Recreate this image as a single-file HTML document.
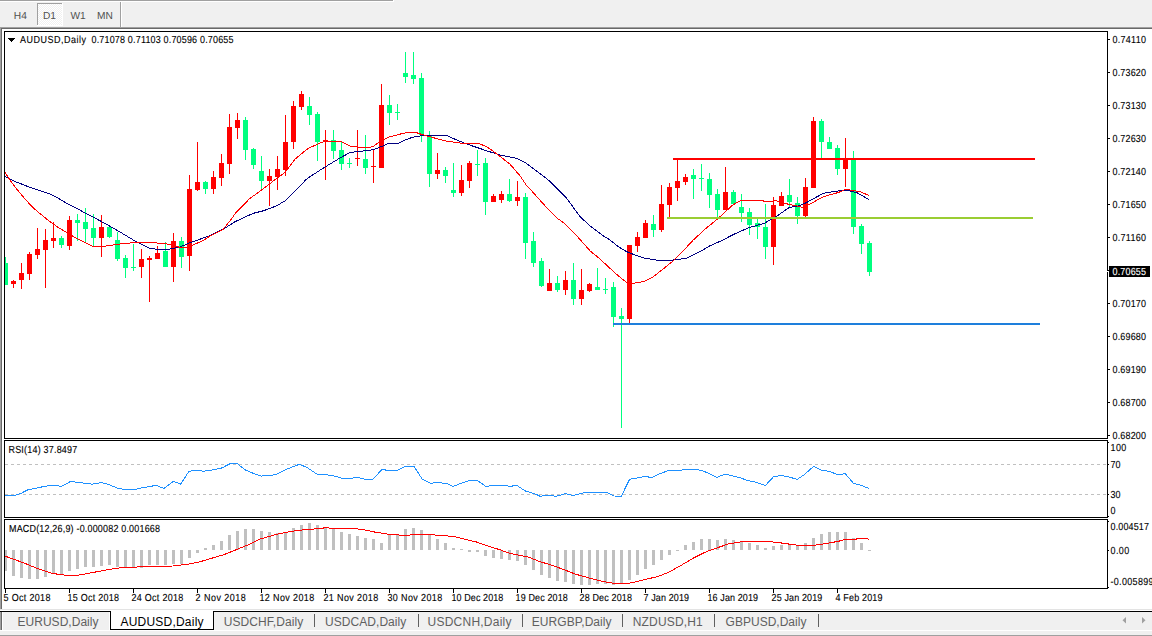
<!DOCTYPE html>
<html><head><meta charset="utf-8"><style>
html,body{margin:0;padding:0;width:1152px;height:636px;overflow:hidden;background:#f0f0f0}
svg{display:block;font-family:"Liberation Sans", sans-serif}
</style></head><body>
<svg width="1152" height="636" viewBox="0 0 1152 636" shape-rendering="crispEdges">
<defs>
<pattern id="dither" width="2" height="2" patternUnits="userSpaceOnUse"><rect width="2" height="2" fill="#f0f0f0"/><rect width="1" height="1" fill="#fff"/><rect x="1" y="1" width="1" height="1" fill="#fff"/></pattern>
<clipPath id="cmain"><rect x="5" y="32" width="1102" height="406"/></clipPath>
<clipPath id="crsi"><rect x="5" y="441" width="1102" height="76"/></clipPath>
<clipPath id="cmacd"><rect x="5" y="520" width="1102" height="68"/></clipPath>
</defs>
<rect x="0" y="0" width="1152" height="636" fill="#f0f0f0"/>
<rect x="0" y="0" width="393" height="1" fill="#a0a0a0"/>
<rect x="393" y="0" width="1" height="2" fill="#ffffff"/>
<rect x="0" y="1" width="393" height="1" fill="#ffffff"/>
<rect x="37" y="3" width="26" height="23" fill="#ffffff"/>
<rect x="38" y="4" width="24" height="21" fill="url(#dither)"/>
<rect x="37" y="3" width="25" height="1" fill="#a0a0a0"/>
<rect x="37" y="3" width="1" height="22" fill="#a0a0a0"/>
<rect x="120" y="2" width="1" height="25" fill="#a0a0a0"/>
<rect x="121" y="2" width="1" height="25" fill="#ffffff"/>
<text transform="translate(13.8,19) scale(1,1)" style="font-size:10.2px;text-rendering:geometricPrecision" fill="#505050">H4</text>
<text transform="translate(43,19) scale(1,1)" style="font-size:10.2px;text-rendering:geometricPrecision" fill="#505050">D1</text>
<text transform="translate(70.5,19) scale(1,1)" style="font-size:10.2px;text-rendering:geometricPrecision" fill="#505050">W1</text>
<text transform="translate(97,19) scale(1,1)" style="font-size:10.2px;text-rendering:geometricPrecision" fill="#505050">MN</text>
<rect x="0" y="27" width="1152" height="1" fill="#a0a0a0"/>
<rect x="0" y="28" width="1152" height="1" fill="#696969"/>
<rect x="0" y="27" width="1" height="582" fill="#a0a0a0"/>
<rect x="1" y="28" width="1" height="581" fill="#696969"/>
<rect x="2" y="29" width="1150" height="580" fill="#ffffff"/>
<rect x="4" y="31" width="1104" height="1" fill="#000"/>
<rect x="4" y="438" width="1104" height="1" fill="#000"/>
<rect x="4" y="31" width="1" height="408" fill="#000"/>
<rect x="1107" y="31" width="1" height="408" fill="#000"/>
<rect x="4" y="440" width="1104" height="1" fill="#000"/>
<rect x="4" y="517" width="1104" height="1" fill="#000"/>
<rect x="4" y="440" width="1" height="78" fill="#000"/>
<rect x="1107" y="440" width="1" height="78" fill="#000"/>
<rect x="4" y="519" width="1104" height="1" fill="#000"/>
<rect x="4" y="588" width="1104" height="1" fill="#000"/>
<rect x="4" y="519" width="1" height="70" fill="#000"/>
<rect x="1107" y="519" width="1" height="70" fill="#000"/>
<g clip-path="url(#cmain)">
<rect x="5" y="257" width="1" height="28" fill="#00ff7f"/>
<rect x="3" y="263" width="5" height="22" fill="#00ff7f"/>
<rect x="13" y="280" width="1" height="8" fill="#ff0000"/>
<rect x="11" y="281" width="5" height="3" fill="#ff0000"/>
<rect x="21" y="263" width="1" height="26" fill="#ff0000"/>
<rect x="19" y="273" width="5" height="7" fill="#ff0000"/>
<rect x="29" y="252" width="1" height="28" fill="#ff0000"/>
<rect x="27" y="254" width="5" height="20" fill="#ff0000"/>
<rect x="37" y="228" width="1" height="31" fill="#ff0000"/>
<rect x="35" y="249" width="5" height="6" fill="#ff0000"/>
<rect x="45" y="229" width="1" height="59" fill="#ff0000"/>
<rect x="43" y="240" width="5" height="10" fill="#ff0000"/>
<rect x="53" y="222" width="1" height="26" fill="#ff0000"/>
<rect x="51" y="238" width="5" height="3" fill="#ff0000"/>
<rect x="61" y="236" width="1" height="12" fill="#00ff7f"/>
<rect x="59" y="238" width="5" height="7" fill="#00ff7f"/>
<rect x="69" y="216" width="1" height="34" fill="#ff0000"/>
<rect x="67" y="220" width="5" height="26" fill="#ff0000"/>
<rect x="77" y="214" width="1" height="27" fill="#00ff7f"/>
<rect x="75" y="220" width="5" height="3" fill="#00ff7f"/>
<rect x="85" y="208" width="1" height="34" fill="#00ff7f"/>
<rect x="83" y="222" width="5" height="7" fill="#00ff7f"/>
<rect x="93" y="214" width="1" height="32" fill="#00ff7f"/>
<rect x="91" y="228" width="5" height="10" fill="#00ff7f"/>
<rect x="101" y="215" width="1" height="42" fill="#ff0000"/>
<rect x="99" y="227" width="5" height="11" fill="#ff0000"/>
<rect x="109" y="226" width="1" height="12" fill="#00ff7f"/>
<rect x="107" y="227" width="5" height="10" fill="#00ff7f"/>
<rect x="117" y="232" width="1" height="29" fill="#00ff7f"/>
<rect x="115" y="240" width="5" height="19" fill="#00ff7f"/>
<rect x="125" y="255" width="1" height="23" fill="#00ff7f"/>
<rect x="123" y="258" width="5" height="10" fill="#00ff7f"/>
<rect x="133" y="244" width="1" height="27" fill="#00ff7f"/>
<rect x="131" y="267" width="5" height="1" fill="#00ff7f"/>
<rect x="141" y="249" width="1" height="29" fill="#ff0000"/>
<rect x="139" y="259" width="5" height="8" fill="#ff0000"/>
<rect x="149" y="256" width="1" height="46" fill="#ff0000"/>
<rect x="147" y="258" width="5" height="2" fill="#ff0000"/>
<rect x="157" y="246" width="1" height="13" fill="#ff0000"/>
<rect x="155" y="253" width="5" height="6" fill="#ff0000"/>
<rect x="165" y="242" width="1" height="25" fill="#00ff7f"/>
<rect x="163" y="251" width="5" height="16" fill="#00ff7f"/>
<rect x="173" y="233" width="1" height="49" fill="#ff0000"/>
<rect x="171" y="241" width="5" height="26" fill="#ff0000"/>
<rect x="181" y="237" width="1" height="31" fill="#00ff7f"/>
<rect x="179" y="241" width="5" height="16" fill="#00ff7f"/>
<rect x="189" y="175" width="1" height="96" fill="#ff0000"/>
<rect x="187" y="189" width="5" height="67" fill="#ff0000"/>
<rect x="197" y="142" width="1" height="49" fill="#ff0000"/>
<rect x="195" y="182" width="5" height="8" fill="#ff0000"/>
<rect x="205" y="181" width="1" height="13" fill="#00ff7f"/>
<rect x="203" y="182" width="5" height="7" fill="#00ff7f"/>
<rect x="213" y="171" width="1" height="23" fill="#ff0000"/>
<rect x="211" y="177" width="5" height="12" fill="#ff0000"/>
<rect x="221" y="154" width="1" height="32" fill="#ff0000"/>
<rect x="219" y="163" width="5" height="15" fill="#ff0000"/>
<rect x="229" y="114" width="1" height="60" fill="#ff0000"/>
<rect x="227" y="127" width="5" height="37" fill="#ff0000"/>
<rect x="237" y="113" width="1" height="26" fill="#ff0000"/>
<rect x="235" y="120" width="5" height="8" fill="#ff0000"/>
<rect x="245" y="117" width="1" height="43" fill="#00ff7f"/>
<rect x="243" y="120" width="5" height="30" fill="#00ff7f"/>
<rect x="253" y="148" width="1" height="21" fill="#00ff7f"/>
<rect x="251" y="149" width="5" height="16" fill="#00ff7f"/>
<rect x="261" y="156" width="1" height="35" fill="#00ff7f"/>
<rect x="259" y="171" width="5" height="10" fill="#00ff7f"/>
<rect x="269" y="169" width="1" height="37" fill="#ff0000"/>
<rect x="267" y="176" width="5" height="5" fill="#ff0000"/>
<rect x="277" y="156" width="1" height="34" fill="#ff0000"/>
<rect x="275" y="169" width="5" height="8" fill="#ff0000"/>
<rect x="285" y="115" width="1" height="61" fill="#ff0000"/>
<rect x="283" y="142" width="5" height="28" fill="#ff0000"/>
<rect x="293" y="101" width="1" height="48" fill="#ff0000"/>
<rect x="291" y="106" width="5" height="36" fill="#ff0000"/>
<rect x="301" y="91" width="1" height="19" fill="#ff0000"/>
<rect x="299" y="94" width="5" height="13" fill="#ff0000"/>
<rect x="309" y="97" width="1" height="28" fill="#00ff7f"/>
<rect x="307" y="106" width="5" height="9" fill="#00ff7f"/>
<rect x="317" y="112" width="1" height="49" fill="#00ff7f"/>
<rect x="315" y="114" width="5" height="28" fill="#00ff7f"/>
<rect x="325" y="130" width="1" height="50" fill="#ff0000"/>
<rect x="323" y="140" width="5" height="2" fill="#ff0000"/>
<rect x="333" y="130" width="1" height="29" fill="#00ff7f"/>
<rect x="331" y="140" width="5" height="11" fill="#00ff7f"/>
<rect x="341" y="142" width="1" height="28" fill="#00ff7f"/>
<rect x="339" y="150" width="5" height="14" fill="#00ff7f"/>
<rect x="349" y="158" width="1" height="10" fill="#00ff7f"/>
<rect x="347" y="163" width="5" height="1" fill="#00ff7f"/>
<rect x="357" y="130" width="1" height="36" fill="#ff0000"/>
<rect x="355" y="158" width="5" height="1" fill="#ff0000"/>
<rect x="365" y="135" width="1" height="39" fill="#00ff7f"/>
<rect x="363" y="159" width="5" height="9" fill="#00ff7f"/>
<rect x="373" y="150" width="1" height="33" fill="#ff0000"/>
<rect x="371" y="166" width="5" height="1" fill="#ff0000"/>
<rect x="381" y="84" width="1" height="84" fill="#ff0000"/>
<rect x="379" y="105" width="5" height="63" fill="#ff0000"/>
<rect x="389" y="95" width="1" height="30" fill="#00ff7f"/>
<rect x="387" y="105" width="5" height="8" fill="#00ff7f"/>
<rect x="397" y="104" width="1" height="16" fill="#00ff7f"/>
<rect x="395" y="112" width="5" height="1" fill="#00ff7f"/>
<rect x="405" y="52" width="1" height="31" fill="#00ff7f"/>
<rect x="403" y="73" width="5" height="4" fill="#00ff7f"/>
<rect x="413" y="52" width="1" height="32" fill="#00ff7f"/>
<rect x="411" y="75" width="5" height="4" fill="#00ff7f"/>
<rect x="421" y="73" width="1" height="69" fill="#00ff7f"/>
<rect x="419" y="78" width="5" height="57" fill="#00ff7f"/>
<rect x="429" y="131" width="1" height="56" fill="#00ff7f"/>
<rect x="427" y="136" width="5" height="38" fill="#00ff7f"/>
<rect x="437" y="153" width="1" height="26" fill="#ff0000"/>
<rect x="435" y="170" width="5" height="4" fill="#ff0000"/>
<rect x="445" y="167" width="1" height="16" fill="#00ff7f"/>
<rect x="443" y="170" width="5" height="6" fill="#00ff7f"/>
<rect x="453" y="163" width="1" height="34" fill="#00ff7f"/>
<rect x="451" y="190" width="5" height="3" fill="#00ff7f"/>
<rect x="461" y="165" width="1" height="31" fill="#ff0000"/>
<rect x="459" y="180" width="5" height="13" fill="#ff0000"/>
<rect x="469" y="161" width="1" height="27" fill="#ff0000"/>
<rect x="467" y="163" width="5" height="18" fill="#ff0000"/>
<rect x="477" y="150" width="1" height="26" fill="#00ff7f"/>
<rect x="475" y="164" width="5" height="1" fill="#00ff7f"/>
<rect x="485" y="158" width="1" height="57" fill="#00ff7f"/>
<rect x="483" y="163" width="5" height="39" fill="#00ff7f"/>
<rect x="493" y="194" width="1" height="8" fill="#ff0000"/>
<rect x="491" y="196" width="5" height="6" fill="#ff0000"/>
<rect x="501" y="191" width="1" height="12" fill="#ff0000"/>
<rect x="499" y="194" width="5" height="6" fill="#ff0000"/>
<rect x="509" y="179" width="1" height="23" fill="#00ff7f"/>
<rect x="507" y="194" width="5" height="7" fill="#00ff7f"/>
<rect x="517" y="181" width="1" height="25" fill="#ff0000"/>
<rect x="515" y="197" width="5" height="4" fill="#ff0000"/>
<rect x="525" y="193" width="1" height="66" fill="#00ff7f"/>
<rect x="523" y="197" width="5" height="46" fill="#00ff7f"/>
<rect x="533" y="232" width="1" height="35" fill="#00ff7f"/>
<rect x="531" y="241" width="5" height="22" fill="#00ff7f"/>
<rect x="541" y="258" width="1" height="29" fill="#00ff7f"/>
<rect x="539" y="261" width="5" height="25" fill="#00ff7f"/>
<rect x="549" y="269" width="1" height="22" fill="#ff0000"/>
<rect x="547" y="283" width="5" height="8" fill="#ff0000"/>
<rect x="557" y="276" width="1" height="16" fill="#00ff7f"/>
<rect x="555" y="283" width="5" height="7" fill="#00ff7f"/>
<rect x="565" y="271" width="1" height="24" fill="#ff0000"/>
<rect x="563" y="280" width="5" height="10" fill="#ff0000"/>
<rect x="573" y="263" width="1" height="42" fill="#00ff7f"/>
<rect x="571" y="280" width="5" height="19" fill="#00ff7f"/>
<rect x="581" y="269" width="1" height="36" fill="#ff0000"/>
<rect x="579" y="290" width="5" height="9" fill="#ff0000"/>
<rect x="589" y="283" width="1" height="9" fill="#ff0000"/>
<rect x="587" y="284" width="5" height="7" fill="#ff0000"/>
<rect x="597" y="268" width="1" height="22" fill="#00ff7f"/>
<rect x="595" y="287" width="5" height="3" fill="#00ff7f"/>
<rect x="605" y="278" width="1" height="16" fill="#00ff7f"/>
<rect x="603" y="289" width="5" height="1" fill="#00ff7f"/>
<rect x="613" y="282" width="1" height="45" fill="#00ff7f"/>
<rect x="611" y="287" width="5" height="30" fill="#00ff7f"/>
<rect x="621" y="308" width="1" height="120" fill="#00ff7f"/>
<rect x="619" y="316" width="5" height="3" fill="#00ff7f"/>
<rect x="629" y="245" width="1" height="78" fill="#ff0000"/>
<rect x="627" y="245" width="5" height="74" fill="#ff0000"/>
<rect x="637" y="232" width="1" height="20" fill="#ff0000"/>
<rect x="635" y="237" width="5" height="9" fill="#ff0000"/>
<rect x="645" y="220" width="1" height="18" fill="#ff0000"/>
<rect x="643" y="223" width="5" height="15" fill="#ff0000"/>
<rect x="653" y="215" width="1" height="22" fill="#00ff7f"/>
<rect x="651" y="224" width="5" height="6" fill="#00ff7f"/>
<rect x="661" y="185" width="1" height="47" fill="#ff0000"/>
<rect x="659" y="204" width="5" height="26" fill="#ff0000"/>
<rect x="669" y="183" width="1" height="34" fill="#ff0000"/>
<rect x="667" y="187" width="5" height="18" fill="#ff0000"/>
<rect x="677" y="159" width="1" height="42" fill="#ff0000"/>
<rect x="675" y="181" width="5" height="7" fill="#ff0000"/>
<rect x="685" y="174" width="1" height="11" fill="#ff0000"/>
<rect x="683" y="177" width="5" height="5" fill="#ff0000"/>
<rect x="693" y="169" width="1" height="30" fill="#00ff7f"/>
<rect x="691" y="175" width="5" height="4" fill="#00ff7f"/>
<rect x="701" y="164" width="1" height="27" fill="#00ff7f"/>
<rect x="699" y="178" width="5" height="1" fill="#00ff7f"/>
<rect x="709" y="173" width="1" height="35" fill="#00ff7f"/>
<rect x="707" y="179" width="5" height="16" fill="#00ff7f"/>
<rect x="717" y="189" width="1" height="28" fill="#00ff7f"/>
<rect x="715" y="194" width="5" height="16" fill="#00ff7f"/>
<rect x="725" y="167" width="1" height="43" fill="#ff0000"/>
<rect x="723" y="192" width="5" height="18" fill="#ff0000"/>
<rect x="733" y="190" width="1" height="14" fill="#00ff7f"/>
<rect x="731" y="192" width="5" height="12" fill="#00ff7f"/>
<rect x="741" y="194" width="1" height="28" fill="#00ff7f"/>
<rect x="739" y="207" width="5" height="6" fill="#00ff7f"/>
<rect x="749" y="208" width="1" height="27" fill="#00ff7f"/>
<rect x="747" y="212" width="5" height="13" fill="#00ff7f"/>
<rect x="757" y="219" width="1" height="20" fill="#00ff7f"/>
<rect x="755" y="223" width="5" height="4" fill="#00ff7f"/>
<rect x="765" y="204" width="1" height="55" fill="#00ff7f"/>
<rect x="763" y="227" width="5" height="20" fill="#00ff7f"/>
<rect x="773" y="197" width="1" height="68" fill="#ff0000"/>
<rect x="771" y="205" width="5" height="42" fill="#ff0000"/>
<rect x="781" y="192" width="1" height="14" fill="#ff0000"/>
<rect x="779" y="196" width="5" height="10" fill="#ff0000"/>
<rect x="789" y="179" width="1" height="28" fill="#00ff7f"/>
<rect x="787" y="195" width="5" height="7" fill="#00ff7f"/>
<rect x="797" y="197" width="1" height="27" fill="#00ff7f"/>
<rect x="795" y="203" width="5" height="13" fill="#00ff7f"/>
<rect x="805" y="178" width="1" height="39" fill="#ff0000"/>
<rect x="803" y="187" width="5" height="29" fill="#ff0000"/>
<rect x="813" y="117" width="1" height="71" fill="#ff0000"/>
<rect x="811" y="121" width="5" height="67" fill="#ff0000"/>
<rect x="821" y="119" width="1" height="39" fill="#00ff7f"/>
<rect x="819" y="121" width="5" height="21" fill="#00ff7f"/>
<rect x="829" y="137" width="1" height="12" fill="#00ff7f"/>
<rect x="827" y="142" width="5" height="7" fill="#00ff7f"/>
<rect x="837" y="145" width="1" height="30" fill="#00ff7f"/>
<rect x="835" y="148" width="5" height="21" fill="#00ff7f"/>
<rect x="845" y="138" width="1" height="49" fill="#ff0000"/>
<rect x="843" y="159" width="5" height="10" fill="#ff0000"/>
<rect x="853" y="151" width="1" height="83" fill="#00ff7f"/>
<rect x="851" y="159" width="5" height="68" fill="#00ff7f"/>
<rect x="861" y="224" width="1" height="30" fill="#00ff7f"/>
<rect x="859" y="226" width="5" height="18" fill="#00ff7f"/>
<rect x="869" y="241" width="1" height="35" fill="#00ff7f"/>
<rect x="867" y="243" width="5" height="29" fill="#00ff7f"/>
<polyline points="5.0,176.7 13.3,180.8 28.3,186.7 38.3,190.0 50.0,194.0 58.3,198.3 66.7,203.3 76.7,208.3 86.7,214.0 96.7,219.0 106.0,224.0 120.0,232.0 135.0,241.0 150.0,248.5 165.0,250.0 180.0,247.0 190.0,242.7 209.0,236.0 223.3,229.2 235.0,221.7 253.3,213.3 263.3,210.8 276.7,205.8 285.0,200.8 295.0,190.8 306.0,179.7 310.0,176.7 325.0,167.0 340.0,158.0 350.0,152.5 360.0,151.3 368.7,150.4 373.9,149.5 381.7,146.5 388.6,143.4 398.2,143.3 405.1,140.0 412.1,137.4 419.0,136.1 425.1,135.6 446.8,135.5 453.8,138.7 466.7,144.0 486.7,150.8 500.0,155.0 516.7,158.3 526.0,163.0 548.3,180.0 566.7,198.3 580.0,216.7 590.0,225.8 603.3,235.8 610.0,240.0 618.3,246.7 626.7,251.7 635.0,255.0 645.0,258.3 658.3,260.3 673.3,260.0 686.7,258.3 700.0,251.7 710.0,245.8 719.3,241.7 736.0,233.3 749.3,227.5 764.3,223.3 776.0,216.7 789.3,207.5 799.3,205.8 806.7,202.5 823.3,193.3 833.3,191.7 845.0,190.0 856.7,192.5 869.0,199.5" fill="none" stroke="#000080" stroke-width="1" stroke-linejoin="round"/>
<polyline points="5.0,172.5 10.0,180.0 16.7,189.0 25.0,199.0 33.3,208.0 41.7,215.0 50.0,221.7 58.3,227.5 66.7,232.5 75.0,237.5 83.3,241.7 93.3,246.7 101.7,246.7 120.0,244.0 140.0,242.0 165.0,243.5 175.0,246.0 181.0,247.7 189.0,247.0 204.0,240.0 210.0,236.0 223.3,229.2 230.0,220.8 236.7,211.7 250.0,198.3 258.3,192.5 268.3,185.0 276.7,178.3 285.0,172.5 295.0,159.2 306.0,150.0 310.0,147.5 325.0,141.0 340.0,141.0 350.0,146.0 357.0,147.0 368.7,147.6 373.9,146.0 377.4,143.3 384.3,139.5 389.5,136.9 394.7,135.6 403.4,133.2 410.3,132.2 415.6,132.4 420.8,134.1 425.1,135.5 433.8,137.8 445.0,140.8 461.7,143.3 478.3,143.3 486.7,146.7 495.0,152.5 510.0,164.2 520.0,175.8 526.0,184.7 530.0,189.0 545.0,205.8 558.3,219.0 563.3,222.5 576.7,235.8 590.0,250.8 600.0,259.0 610.0,268.3 618.3,275.8 626.7,282.5 633.3,283.3 643.3,281.7 653.3,276.7 665.0,267.5 673.3,260.8 681.7,252.5 693.3,240.0 705.0,229.2 716.0,220.3 721.0,215.8 732.7,205.0 741.0,200.3 761.0,200.3 766.0,201.7 776.0,200.8 786.0,203.7 796.0,205.8 802.7,207.5 812.0,203.0 823.3,196.7 838.3,192.5 845.0,189.7 850.0,190.0 860.0,191.7 869.0,195.5" fill="none" stroke="#ff0000" stroke-width="1" stroke-linejoin="round"/>
<rect x="673" y="158" width="362" height="2" fill="#ff0000"/>
<rect x="667" y="217" width="366" height="2" fill="#9acd32"/>
<rect x="613" y="323" width="427" height="2" fill="#1e7fdc"/>
</g>
<path d="M8,38 L15,38 L11.5,42 Z" fill="#000"/>
<text transform="translate(20,43) scale(0.88,1)" style="font-size:10.2px;text-rendering:geometricPrecision;stroke:#000;stroke-width:0.12px" fill="#000" textLength="75.00" lengthAdjust="spacing">AUDUSD,Daily</text>
<text transform="translate(91.5,43) scale(0.88,1)" style="font-size:10.2px;text-rendering:geometricPrecision;stroke:#000;stroke-width:0.12px" fill="#000" textLength="161.36" lengthAdjust="spacing">0.71078 0.71103 0.70596 0.70655</text>
<rect x="1108" y="39" width="2" height="1" fill="#000"/>
<text transform="translate(1112.5,43) scale(0.88,1)" style="font-size:10.2px;text-rendering:geometricPrecision;stroke:#000;stroke-width:0.12px" fill="#000" textLength="38.07" lengthAdjust="spacing">0.74110</text>
<rect x="1108" y="72" width="2" height="1" fill="#000"/>
<text transform="translate(1112.5,76) scale(0.88,1)" style="font-size:10.2px;text-rendering:geometricPrecision;stroke:#000;stroke-width:0.12px" fill="#000" textLength="38.07" lengthAdjust="spacing">0.73620</text>
<rect x="1108" y="105" width="2" height="1" fill="#000"/>
<text transform="translate(1112.5,109) scale(0.88,1)" style="font-size:10.2px;text-rendering:geometricPrecision;stroke:#000;stroke-width:0.12px" fill="#000" textLength="38.07" lengthAdjust="spacing">0.73130</text>
<rect x="1108" y="138" width="2" height="1" fill="#000"/>
<text transform="translate(1112.5,142) scale(0.88,1)" style="font-size:10.2px;text-rendering:geometricPrecision;stroke:#000;stroke-width:0.12px" fill="#000" textLength="38.07" lengthAdjust="spacing">0.72630</text>
<rect x="1108" y="171" width="2" height="1" fill="#000"/>
<text transform="translate(1112.5,175) scale(0.88,1)" style="font-size:10.2px;text-rendering:geometricPrecision;stroke:#000;stroke-width:0.12px" fill="#000" textLength="38.07" lengthAdjust="spacing">0.72140</text>
<rect x="1108" y="204" width="2" height="1" fill="#000"/>
<text transform="translate(1112.5,208) scale(0.88,1)" style="font-size:10.2px;text-rendering:geometricPrecision;stroke:#000;stroke-width:0.12px" fill="#000" textLength="38.07" lengthAdjust="spacing">0.71650</text>
<rect x="1108" y="237" width="2" height="1" fill="#000"/>
<text transform="translate(1112.5,241) scale(0.88,1)" style="font-size:10.2px;text-rendering:geometricPrecision;stroke:#000;stroke-width:0.12px" fill="#000" textLength="38.07" lengthAdjust="spacing">0.71160</text>
<rect x="1108" y="270" width="2" height="1" fill="#000"/>
<rect x="1108" y="303" width="2" height="1" fill="#000"/>
<text transform="translate(1112.5,307) scale(0.88,1)" style="font-size:10.2px;text-rendering:geometricPrecision;stroke:#000;stroke-width:0.12px" fill="#000" textLength="38.07" lengthAdjust="spacing">0.70170</text>
<rect x="1108" y="336" width="2" height="1" fill="#000"/>
<text transform="translate(1112.5,340) scale(0.88,1)" style="font-size:10.2px;text-rendering:geometricPrecision;stroke:#000;stroke-width:0.12px" fill="#000" textLength="38.07" lengthAdjust="spacing">0.69680</text>
<rect x="1108" y="369" width="2" height="1" fill="#000"/>
<text transform="translate(1112.5,373) scale(0.88,1)" style="font-size:10.2px;text-rendering:geometricPrecision;stroke:#000;stroke-width:0.12px" fill="#000" textLength="38.07" lengthAdjust="spacing">0.69190</text>
<rect x="1108" y="402" width="2" height="1" fill="#000"/>
<text transform="translate(1112.5,406) scale(0.88,1)" style="font-size:10.2px;text-rendering:geometricPrecision;stroke:#000;stroke-width:0.12px" fill="#000" textLength="38.07" lengthAdjust="spacing">0.68700</text>
<rect x="1108" y="435" width="2" height="1" fill="#000"/>
<text transform="translate(1112.5,439) scale(0.88,1)" style="font-size:10.2px;text-rendering:geometricPrecision;stroke:#000;stroke-width:0.12px" fill="#000" textLength="38.07" lengthAdjust="spacing">0.68200</text>
<rect x="1109" y="266" width="41" height="11" fill="#000"/>
<rect x="1107" y="271" width="1" height="1" fill="#fff"/>
<rect x="1108" y="270" width="1" height="1" fill="#000"/>
<text transform="translate(1112.5,275) scale(0.88,1)" style="font-size:10.2px;text-rendering:geometricPrecision;stroke:#fff;stroke-width:0.12px" fill="#fff" textLength="38.07" lengthAdjust="spacing">0.70655</text>
<g clip-path="url(#crsi)">
<line x1="5" y1="464.5" x2="1107" y2="464.5" stroke="#c0c0c0" stroke-dasharray="3 3"/>
<line x1="5" y1="494.5" x2="1107" y2="494.5" stroke="#c0c0c0" stroke-dasharray="3 3"/>
<polyline points="4.7,495.5 14.2,495.5 20.1,493.8 28.3,489.6 35.4,488.4 42.5,486.8 49.6,485.6 56.7,485.6 61.4,486.5 70.8,481.3 77.9,482.5 85.0,483.2 92.1,484.2 101.5,482.5 108.6,484.4 118.1,488.4 125.1,489.6 134.6,489.6 141.7,487.9 148.8,486.8 155.8,485.3 164.1,488.4 173.6,481.3 180.6,484.2 188.9,471.4 196.0,470.2 203.1,471.2 212.5,470.0 222.0,467.9 230.2,463.6 237.3,463.6 245.6,470.2 253.8,473.5 260.9,476.1 266.8,475.4 271.1,475.4 277.0,474.2 287.6,468.8 299.4,464.3 306.5,467.2 317.1,474.2 326.6,474.7 334.8,476.1 341.9,478.3 351.4,478.3 357.3,477.3 365.5,479.4 372.6,479.4 382.1,469.5 386.8,470.2 397.4,470.2 405.7,466.4 413.9,466.4 422.2,479.0 430.5,483.2 438.7,482.5 447.0,483.7 452.9,486.5 460.0,483.7 469.4,480.6 477.7,480.6 486.0,486.5 493.0,485.3 504.8,485.3 509.6,486.5 516.7,485.3 524.9,490.8 536.0,494.3 539.8,496.2 546.9,495.5 556.3,496.2 565.8,493.6 572.9,495.5 582.3,493.1 587.0,492.0 605.9,492.0 614.2,496.0 621.3,496.2 629.5,479.4 643.7,476.6 652.0,477.3 660.2,473.5 669.7,470.2 679.1,470.2 688.6,469.5 696.8,469.5 702.7,470.7 716.9,477.3 725.2,474.2 733.4,476.1 740.5,477.8 747.6,480.6 757.0,482.5 765.3,485.6 773.6,476.6 781.8,475.4 790.1,477.3 797.2,479.4 803.8,475.0 813.7,466.4 821.5,470.2 829.8,471.4 838.0,475.0 845.1,473.5 853.4,483.2 861.7,485.6 869.0,488.4" fill="none" stroke="#1e90ff" stroke-width="1" stroke-linejoin="round"/>
</g>
<text transform="translate(8.5,453) scale(0.88,1)" style="font-size:10.2px;text-rendering:geometricPrecision;stroke:#000;stroke-width:0.12px" fill="#000" textLength="78.07" lengthAdjust="spacing">RSI(14) 37.8497</text>
<rect x="1108" y="442" width="1" height="1" fill="#000"/>
<text transform="translate(1110.5,451) scale(0.88,1)" style="font-size:10.2px;text-rendering:geometricPrecision;stroke:#000;stroke-width:0.12px" fill="#000" textLength="17.95" lengthAdjust="spacing">100</text>
<rect x="1108" y="464" width="1" height="1" fill="#000"/>
<text transform="translate(1110.5,468) scale(0.88,1)" style="font-size:10.2px;text-rendering:geometricPrecision;stroke:#000;stroke-width:0.12px" fill="#000" textLength="11.36" lengthAdjust="spacing">70</text>
<rect x="1108" y="494" width="1" height="1" fill="#000"/>
<text transform="translate(1110.5,498) scale(0.88,1)" style="font-size:10.2px;text-rendering:geometricPrecision;stroke:#000;stroke-width:0.12px" fill="#000" textLength="11.36" lengthAdjust="spacing">30</text>
<rect x="1108" y="516" width="1" height="1" fill="#000"/>
<text transform="translate(1110.5,514) scale(0.88,1)" style="font-size:10.2px;text-rendering:geometricPrecision;stroke:#000;stroke-width:0.12px" fill="#000">0</text>
<g clip-path="url(#cmacd)">
<rect x="4" y="550" width="3" height="21" fill="#c0c0c0"/>
<rect x="12" y="550" width="3" height="26" fill="#c0c0c0"/>
<rect x="20" y="550" width="3" height="28" fill="#c0c0c0"/>
<rect x="28" y="550" width="3" height="29" fill="#c0c0c0"/>
<rect x="36" y="550" width="3" height="29" fill="#c0c0c0"/>
<rect x="44" y="550" width="3" height="27" fill="#c0c0c0"/>
<rect x="52" y="550" width="3" height="24" fill="#c0c0c0"/>
<rect x="60" y="550" width="3" height="24" fill="#c0c0c0"/>
<rect x="68" y="550" width="3" height="21" fill="#c0c0c0"/>
<rect x="76" y="550" width="3" height="19" fill="#c0c0c0"/>
<rect x="84" y="550" width="3" height="17" fill="#c0c0c0"/>
<rect x="92" y="550" width="3" height="17" fill="#c0c0c0"/>
<rect x="100" y="550" width="3" height="16" fill="#c0c0c0"/>
<rect x="108" y="550" width="3" height="15" fill="#c0c0c0"/>
<rect x="116" y="550" width="3" height="17" fill="#c0c0c0"/>
<rect x="124" y="550" width="3" height="17" fill="#c0c0c0"/>
<rect x="132" y="550" width="3" height="17" fill="#c0c0c0"/>
<rect x="140" y="550" width="3" height="18" fill="#c0c0c0"/>
<rect x="148" y="550" width="3" height="15" fill="#c0c0c0"/>
<rect x="156" y="550" width="3" height="15" fill="#c0c0c0"/>
<rect x="164" y="550" width="3" height="15" fill="#c0c0c0"/>
<rect x="172" y="550" width="3" height="14" fill="#c0c0c0"/>
<rect x="180" y="550" width="3" height="14" fill="#c0c0c0"/>
<rect x="188" y="550" width="3" height="8" fill="#c0c0c0"/>
<rect x="196" y="550" width="3" height="3" fill="#c0c0c0"/>
<rect x="204" y="548" width="3" height="2" fill="#c0c0c0"/>
<rect x="212" y="545" width="3" height="5" fill="#c0c0c0"/>
<rect x="220" y="541" width="3" height="9" fill="#c0c0c0"/>
<rect x="228" y="535" width="3" height="15" fill="#c0c0c0"/>
<rect x="236" y="531" width="3" height="19" fill="#c0c0c0"/>
<rect x="244" y="529" width="3" height="21" fill="#c0c0c0"/>
<rect x="252" y="529" width="3" height="21" fill="#c0c0c0"/>
<rect x="260" y="531" width="3" height="19" fill="#c0c0c0"/>
<rect x="268" y="532" width="3" height="18" fill="#c0c0c0"/>
<rect x="276" y="533" width="3" height="17" fill="#c0c0c0"/>
<rect x="284" y="532" width="3" height="18" fill="#c0c0c0"/>
<rect x="292" y="528" width="3" height="22" fill="#c0c0c0"/>
<rect x="300" y="525" width="3" height="25" fill="#c0c0c0"/>
<rect x="308" y="523" width="3" height="27" fill="#c0c0c0"/>
<rect x="316" y="525" width="3" height="25" fill="#c0c0c0"/>
<rect x="324" y="527" width="3" height="23" fill="#c0c0c0"/>
<rect x="332" y="528" width="3" height="22" fill="#c0c0c0"/>
<rect x="340" y="532" width="3" height="18" fill="#c0c0c0"/>
<rect x="348" y="534" width="3" height="16" fill="#c0c0c0"/>
<rect x="356" y="536" width="3" height="14" fill="#c0c0c0"/>
<rect x="364" y="538" width="3" height="12" fill="#c0c0c0"/>
<rect x="372" y="539" width="3" height="11" fill="#c0c0c0"/>
<rect x="380" y="543" width="3" height="7" fill="#c0c0c0"/>
<rect x="388" y="534" width="3" height="16" fill="#c0c0c0"/>
<rect x="396" y="534" width="3" height="16" fill="#c0c0c0"/>
<rect x="404" y="529" width="3" height="21" fill="#c0c0c0"/>
<rect x="412" y="528" width="3" height="22" fill="#c0c0c0"/>
<rect x="420" y="530" width="3" height="20" fill="#c0c0c0"/>
<rect x="428" y="535" width="3" height="15" fill="#c0c0c0"/>
<rect x="436" y="539" width="3" height="11" fill="#c0c0c0"/>
<rect x="444" y="543" width="3" height="7" fill="#c0c0c0"/>
<rect x="452" y="548" width="3" height="2" fill="#c0c0c0"/>
<rect x="460" y="549" width="3" height="1" fill="#c0c0c0"/>
<rect x="468" y="550" width="3" height="2" fill="#c0c0c0"/>
<rect x="476" y="550" width="3" height="2" fill="#c0c0c0"/>
<rect x="484" y="550" width="3" height="6" fill="#c0c0c0"/>
<rect x="492" y="550" width="3" height="8" fill="#c0c0c0"/>
<rect x="500" y="550" width="3" height="9" fill="#c0c0c0"/>
<rect x="508" y="550" width="3" height="10" fill="#c0c0c0"/>
<rect x="516" y="550" width="3" height="11" fill="#c0c0c0"/>
<rect x="524" y="550" width="3" height="15" fill="#c0c0c0"/>
<rect x="532" y="550" width="3" height="20" fill="#c0c0c0"/>
<rect x="540" y="550" width="3" height="25" fill="#c0c0c0"/>
<rect x="548" y="550" width="3" height="28" fill="#c0c0c0"/>
<rect x="556" y="550" width="3" height="31" fill="#c0c0c0"/>
<rect x="564" y="550" width="3" height="32" fill="#c0c0c0"/>
<rect x="572" y="550" width="3" height="34" fill="#c0c0c0"/>
<rect x="580" y="550" width="3" height="35" fill="#c0c0c0"/>
<rect x="588" y="550" width="3" height="35" fill="#c0c0c0"/>
<rect x="596" y="550" width="3" height="34" fill="#c0c0c0"/>
<rect x="604" y="550" width="3" height="34" fill="#c0c0c0"/>
<rect x="612" y="550" width="3" height="35" fill="#c0c0c0"/>
<rect x="620" y="550" width="3" height="34" fill="#c0c0c0"/>
<rect x="628" y="550" width="3" height="30" fill="#c0c0c0"/>
<rect x="636" y="550" width="3" height="25" fill="#c0c0c0"/>
<rect x="644" y="550" width="3" height="19" fill="#c0c0c0"/>
<rect x="652" y="550" width="3" height="15" fill="#c0c0c0"/>
<rect x="660" y="550" width="3" height="10" fill="#c0c0c0"/>
<rect x="668" y="550" width="3" height="5" fill="#c0c0c0"/>
<rect x="676" y="550" width="3" height="1" fill="#c0c0c0"/>
<rect x="684" y="545" width="3" height="5" fill="#c0c0c0"/>
<rect x="692" y="542" width="3" height="8" fill="#c0c0c0"/>
<rect x="700" y="539" width="3" height="11" fill="#c0c0c0"/>
<rect x="708" y="539" width="3" height="11" fill="#c0c0c0"/>
<rect x="716" y="540" width="3" height="10" fill="#c0c0c0"/>
<rect x="724" y="539" width="3" height="11" fill="#c0c0c0"/>
<rect x="732" y="540" width="3" height="10" fill="#c0c0c0"/>
<rect x="740" y="541" width="3" height="9" fill="#c0c0c0"/>
<rect x="748" y="543" width="3" height="7" fill="#c0c0c0"/>
<rect x="756" y="545" width="3" height="5" fill="#c0c0c0"/>
<rect x="764" y="548" width="3" height="2" fill="#c0c0c0"/>
<rect x="772" y="546" width="3" height="4" fill="#c0c0c0"/>
<rect x="780" y="545" width="3" height="5" fill="#c0c0c0"/>
<rect x="788" y="544" width="3" height="6" fill="#c0c0c0"/>
<rect x="796" y="545" width="3" height="5" fill="#c0c0c0"/>
<rect x="804" y="543" width="3" height="7" fill="#c0c0c0"/>
<rect x="812" y="538" width="3" height="12" fill="#c0c0c0"/>
<rect x="820" y="534" width="3" height="16" fill="#c0c0c0"/>
<rect x="828" y="532" width="3" height="18" fill="#c0c0c0"/>
<rect x="836" y="532" width="3" height="18" fill="#c0c0c0"/>
<rect x="844" y="532" width="3" height="18" fill="#c0c0c0"/>
<rect x="852" y="538" width="3" height="12" fill="#c0c0c0"/>
<rect x="860" y="543" width="3" height="7" fill="#c0c0c0"/>
<rect x="868" y="550" width="3" height="1" fill="#c0c0c0"/>
<polyline points="5.2,556.2 23.6,562.8 37.8,568.7 52.0,573.4 66.1,575.3 77.9,575.3 94.5,572.2 106.3,569.9 122.8,567.5 137.0,567.0 151.1,566.3 170.0,566.3 186.5,564.4 198.3,562.3 212.5,558.0 224.3,554.5 236.1,549.8 250.3,543.9 259.7,539.2 272.0,535.6 275.8,534.4 287.6,532.1 299.4,530.2 311.2,529.3 325.4,527.8 334.8,528.3 353.7,528.5 363.2,529.7 375.0,532.1 389.1,534.4 405.7,535.4 417.5,534.4 429.3,534.4 441.1,535.6 452.9,536.3 464.7,539.2 476.5,542.0 488.3,546.2 500.1,549.8 509.6,553.3 519.0,555.2 528.0,556.9 539.8,561.6 551.6,565.1 563.4,569.4 575.2,574.1 587.0,577.4 598.8,580.5 610.6,582.9 622.4,583.6 631.9,582.9 646.1,579.3 657.9,576.5 669.7,571.8 681.5,565.1 693.3,558.1 705.1,552.2 716.9,547.9 728.7,543.9 740.5,542.0 752.3,541.1 764.1,541.5 775.9,542.2 787.7,543.9 796.7,545.1 815.6,545.1 827.4,543.4 839.2,541.1 846.3,539.2 855.8,539.2 860.5,538.0 865.2,538.0 869.0,539.2" fill="none" stroke="#ff0000" stroke-width="1" stroke-linejoin="round"/>
</g>
<text transform="translate(9,532) scale(0.88,1)" style="font-size:10.2px;text-rendering:geometricPrecision;stroke:#000;stroke-width:0.12px" fill="#000" textLength="171.59" lengthAdjust="spacing">MACD(12,26,9) -0.000082 0.001668</text>
<rect x="1108" y="521" width="1" height="1" fill="#000"/>
<text transform="translate(1110.5,530) scale(0.88,1)" style="font-size:10.2px;text-rendering:geometricPrecision;stroke:#000;stroke-width:0.12px" fill="#000" textLength="43.75" lengthAdjust="spacing">0.004517</text>
<rect x="1108" y="550" width="1" height="1" fill="#000"/>
<text transform="translate(1110.5,554) scale(0.88,1)" style="font-size:10.2px;text-rendering:geometricPrecision;stroke:#000;stroke-width:0.12px" fill="#000" textLength="21.25" lengthAdjust="spacing">0.00</text>
<rect x="1108" y="587" width="1" height="1" fill="#000"/>
<text transform="translate(1110.5,585) scale(0.88,1)" style="font-size:10.2px;text-rendering:geometricPrecision;stroke:#000;stroke-width:0.12px" fill="#000" textLength="48.86" lengthAdjust="spacing">-0.005899</text>
<rect x="5" y="589" width="1" height="4" fill="#000"/>
<text transform="translate(3.5,601) scale(0.88,1)" style="font-size:10.2px;text-rendering:geometricPrecision;stroke:#000;stroke-width:0.12px" fill="#000" textLength="53.30" lengthAdjust="spacing">5 Oct 2018</text>
<rect x="69" y="589" width="1" height="4" fill="#000"/>
<text transform="translate(67.5,601) scale(0.88,1)" style="font-size:10.2px;text-rendering:geometricPrecision;stroke:#000;stroke-width:0.12px" fill="#000" textLength="58.41" lengthAdjust="spacing">15 Oct 2018</text>
<rect x="133" y="589" width="1" height="4" fill="#000"/>
<text transform="translate(131.5,601) scale(0.88,1)" style="font-size:10.2px;text-rendering:geometricPrecision;stroke:#000;stroke-width:0.12px" fill="#000" textLength="58.75" lengthAdjust="spacing">24 Oct 2018</text>
<rect x="197" y="589" width="1" height="4" fill="#000"/>
<text transform="translate(195.5,601) scale(0.88,1)" style="font-size:10.2px;text-rendering:geometricPrecision;stroke:#000;stroke-width:0.12px" fill="#000" textLength="57.16" lengthAdjust="spacing">2 Nov 2018</text>
<rect x="261" y="589" width="1" height="4" fill="#000"/>
<text transform="translate(259.5,601) scale(0.88,1)" style="font-size:10.2px;text-rendering:geometricPrecision;stroke:#000;stroke-width:0.12px" fill="#000" textLength="62.16" lengthAdjust="spacing">12 Nov 2018</text>
<rect x="325" y="589" width="1" height="4" fill="#000"/>
<text transform="translate(323.5,601) scale(0.88,1)" style="font-size:10.2px;text-rendering:geometricPrecision;stroke:#000;stroke-width:0.12px" fill="#000" textLength="62.16" lengthAdjust="spacing">21 Nov 2018</text>
<rect x="389" y="589" width="1" height="4" fill="#000"/>
<text transform="translate(387.5,601) scale(0.88,1)" style="font-size:10.2px;text-rendering:geometricPrecision;stroke:#000;stroke-width:0.12px" fill="#000" textLength="62.16" lengthAdjust="spacing">30 Nov 2018</text>
<rect x="453" y="589" width="1" height="4" fill="#000"/>
<text transform="translate(451.5,601) scale(0.88,1)" style="font-size:10.2px;text-rendering:geometricPrecision;stroke:#000;stroke-width:0.12px" fill="#000" textLength="58.86" lengthAdjust="spacing">10 Dec 2018</text>
<rect x="517" y="589" width="1" height="4" fill="#000"/>
<text transform="translate(515.5,601) scale(0.88,1)" style="font-size:10.2px;text-rendering:geometricPrecision;stroke:#000;stroke-width:0.12px" fill="#000" textLength="59.43" lengthAdjust="spacing">19 Dec 2018</text>
<rect x="581" y="589" width="1" height="4" fill="#000"/>
<text transform="translate(579.5,601) scale(0.88,1)" style="font-size:10.2px;text-rendering:geometricPrecision;stroke:#000;stroke-width:0.12px" fill="#000" textLength="59.55" lengthAdjust="spacing">28 Dec 2018</text>
<rect x="645" y="589" width="1" height="4" fill="#000"/>
<text transform="translate(643.5,601) scale(0.88,1)" style="font-size:10.2px;text-rendering:geometricPrecision;stroke:#000;stroke-width:0.12px" fill="#000" textLength="51.82" lengthAdjust="spacing">7 Jan 2019</text>
<rect x="709" y="589" width="1" height="4" fill="#000"/>
<text transform="translate(707.5,601) scale(0.88,1)" style="font-size:10.2px;text-rendering:geometricPrecision;stroke:#000;stroke-width:0.12px" fill="#000" textLength="57.39" lengthAdjust="spacing">16 Jan 2019</text>
<rect x="773" y="589" width="1" height="4" fill="#000"/>
<text transform="translate(771.5,601) scale(0.88,1)" style="font-size:10.2px;text-rendering:geometricPrecision;stroke:#000;stroke-width:0.12px" fill="#000" textLength="57.73" lengthAdjust="spacing">25 Jan 2019</text>
<rect x="837" y="589" width="1" height="4" fill="#000"/>
<text transform="translate(835.5,601) scale(0.88,1)" style="font-size:10.2px;text-rendering:geometricPrecision;stroke:#000;stroke-width:0.12px" fill="#000" textLength="53.41" lengthAdjust="spacing">4 Feb 2019</text>
<rect x="0" y="609" width="1152" height="1" fill="#e3e3e3"/>
<rect x="0" y="610" width="1152" height="1" fill="#ffffff"/>
<rect x="0" y="611" width="1152" height="1" fill="#000"/>
<rect x="0" y="612" width="1" height="19" fill="#a0a0a0"/>
<rect x="1" y="612" width="1" height="19" fill="#696969"/>
<rect x="2" y="612" width="1" height="19" fill="#ffffff"/>
<rect x="0" y="630" width="1152" height="1" fill="#ffffff"/>
<rect x="0" y="631" width="1152" height="3" fill="#f0f0f0"/>
<rect x="0" y="635" width="1152" height="1" fill="#a0a0a0"/>
<rect x="109" y="612" width="1" height="18" fill="#ffffff"/>
<rect x="110" y="611" width="104" height="19" fill="#000"/>
<rect x="111" y="611" width="102" height="18" fill="#ffffff"/>
<text x="120.5" y="626" style="font-size:12px" fill="#000" textLength="83" lengthAdjust="spacing">AUDUSD,Daily</text>
<text x="17.5" y="626" style="font-size:12px" fill="#606060" textLength="81" lengthAdjust="spacing">EURUSD,Daily</text>
<text x="223.8" y="626" style="font-size:12px" fill="#606060" textLength="79.4" lengthAdjust="spacing">USDCHF,Daily</text>
<text x="325" y="626" style="font-size:12px" fill="#606060" textLength="81.3" lengthAdjust="spacing">USDCAD,Daily</text>
<text x="427.5" y="626" style="font-size:12px" fill="#606060" textLength="84" lengthAdjust="spacing">USDCNH,Daily</text>
<text x="531.8" y="626" style="font-size:12px" fill="#606060" textLength="79.7" lengthAdjust="spacing">EURGBP,Daily</text>
<text x="632.8" y="626" style="font-size:12px" fill="#606060" textLength="69.9" lengthAdjust="spacing">NZDUSD,H1</text>
<text x="725.6" y="626" style="font-size:12px" fill="#606060" textLength="80.8" lengthAdjust="spacing">GBPUSD,Daily</text>
<rect x="314" y="614" width="1" height="13" fill="#606060"/>
<rect x="418" y="614" width="1" height="13" fill="#606060"/>
<rect x="522" y="614" width="1" height="13" fill="#606060"/>
<rect x="622" y="614" width="1" height="13" fill="#606060"/>
<rect x="714" y="614" width="1" height="13" fill="#606060"/>
<rect x="818" y="614" width="1" height="13" fill="#606060"/>
<path d="M1126,617 L1126,623.5 L1122.5,620.25 Z" fill="#a0a0a0" shape-rendering="geometricPrecision"/>
<path d="M1142,617 L1142,623.5 L1145.5,620.25 Z" fill="#a0a0a0" shape-rendering="geometricPrecision"/>
</svg>
</body></html>
